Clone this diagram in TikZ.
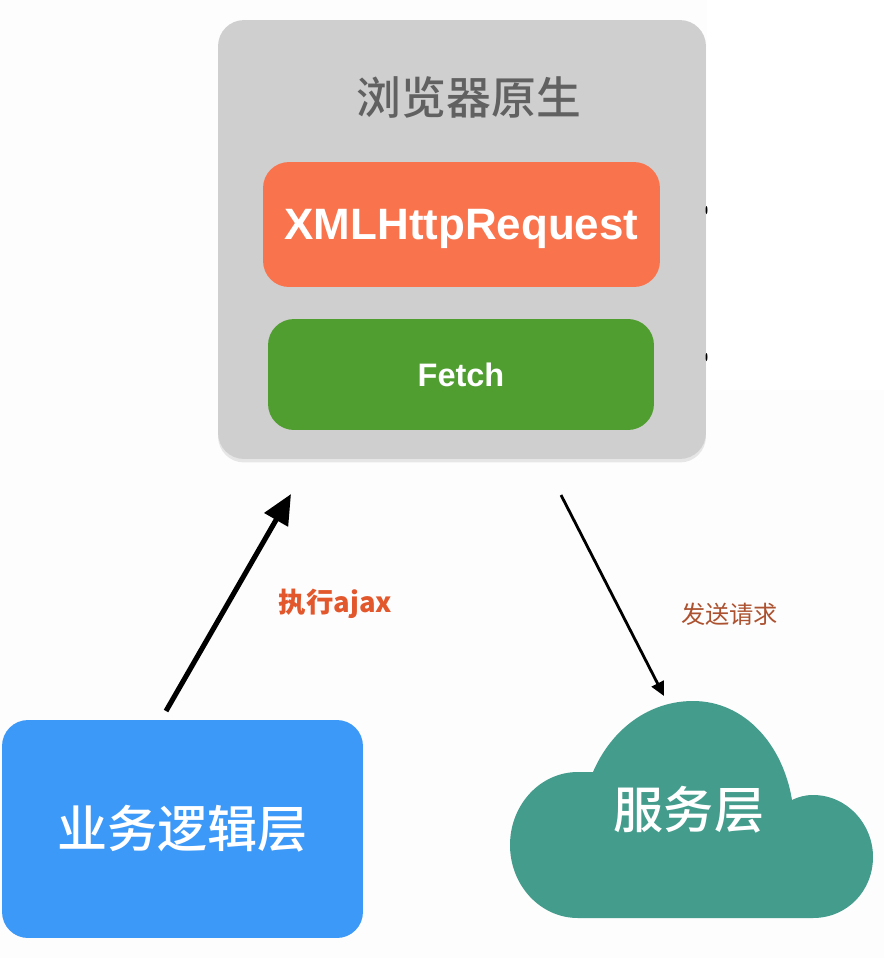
\documentclass[tikz,border=0pt]{standalone}
\usepackage{fontspec}
\setmainfont{Liberation Sans}
\newfontfamily\cjk{Noto Sans CJK SC}
\newfontfamily\cjkmid{Noto Sans CJK SC Medium}
\usetikzlibrary{shadows,arrows.meta}
\definecolor{panelgray}{HTML}{CFCFCF}
\definecolor{xhrorange}{HTML}{F9744D}
\definecolor{fetchgreen}{HTML}{4F9E2F}
\definecolor{bizblue}{HTML}{3D99F8}
\definecolor{cloudteal}{HTML}{439C8C}
\definecolor{ajaxred}{HTML}{E2572C}
\definecolor{sendbrown}{HTML}{AC5230}
\definecolor{pagewhite}{HTML}{FDFDFD}
\begin{document}
\begin{tikzpicture}[x=.02cm, y=-.02cm,
main box/.style={rounded corners=.52cm,inner sep=0pt,text=white},
white label/.style={text=white,inner sep=0pt}]
\useasboundingbox (0,0) rectangle (884,958);
\fill[pagewhite] (0,0) rectangle (884,958);
\fill[white] (707,0) rectangle (884,390);
\begin{scope}
\node[main box,fill=panelgray,minimum width=9.76cm,minimum height=8.78cm,drop shadow={opacity=.18,shadow xshift=0pt,shadow yshift=-2pt}] (browser) at (462,239.5) {};
\node[inner sep=0pt,text=black!62] (title) at (469,97) {\cjkmid\fontsize{25.5}{30}\selectfont 浏览器原生};
\node[main box,fill=xhrorange,minimum width=7.94cm,minimum height=2.5cm,text height=22.4pt,text depth=5.2pt] (xhr) at (461.5,224.5) {\bfseries\fontsize{25}{30}\selectfont XMLHttpRequest};
\node[main box,fill=fetchgreen,minimum width=7.72cm,minimum height=2.22cm] (fetch) at (461,374.5) {\bfseries\fontsize{18.5}{23}\selectfont Fetch};
\node[main box,fill=bizblue,minimum width=7.22cm,minimum height=4.36cm] (biz) at (182.5,829) {\cjkmid\fontsize{28.5}{34}\selectfont 业务逻辑层};
\end{scope}
%cloud outline
\fill[cloudteal] (593,772) .. controls (612,728) and (650,701) .. (693,701)
  .. controls (745,701) and (783,745) .. (792,800)
  .. controls (798,797) and (805,795) .. (813,795)
  .. controls (847,795) and (873,824) .. (873,857)
  .. controls (873,891) and (847,918) .. (813,918)
  -- (578,918)
  .. controls (540,918) and (510,885) .. (510,845)
  .. controls (510,805) and (540,772) .. (578,772)
  .. controls (584,772) and (589,772) .. (593,772) -- cycle;
\node[white label] (server) at (689,810) {\cjkmid\fontsize{28.5}{34}\selectfont 服务层};
\node[inner sep=0pt,text=ajaxred] (ajax) at (335.5,604) {\cjk\bfseries\fontsize{15.6}{20}\selectfont 执行ajax};
\node[inner sep=0pt,text=sendbrown] (send) at (729.5,614) {\cjk\fontsize{13.8}{17}\selectfont 发送请求};
\begin{scope}
\coordinate (a1) at (166,711);
\coordinate (a2) at (291,494);
\coordinate (b1) at (561,495);
\coordinate (b2) at (664,696);
\draw[-{Triangle[length=17pt,width=15pt]},line width=2.9pt,black] (a1) -- (a2);
\draw[-{Triangle[length=8pt,width=7.5pt]},line width=1.6pt,black] (b1) -- (b2);
\end{scope}
%specks on the panel edge
\fill[black] (706.5,210) ellipse (1 and 4);
\fill[black] (706.5,357) ellipse (1 and 4);
\end{tikzpicture}
\end{document}
